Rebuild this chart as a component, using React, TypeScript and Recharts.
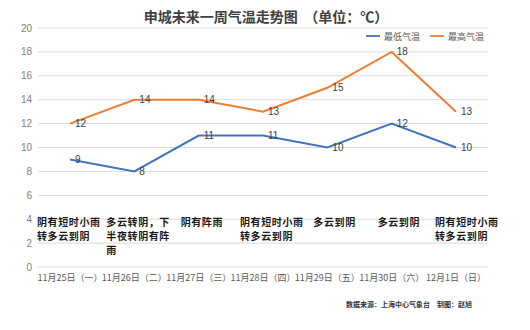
import React from 'react';
import {
  CartesianGrid,
  LabelList,
  Legend,
  Line,
  LineChart,
  ReferenceDot,
  XAxis,
  YAxis,
} from 'recharts';

// 日期（横轴）
const days = [
  '11月25日（一）',
  '11月26日（二）',
  '11月27日（三）',
  '11月28日（四）',
  '11月29日（五）',
  '11月30日（六）',
  '12月1日（日）',
];

// 最低 / 最高气温
const lowTemps = [9, 8, 11, 11, 10, 12, 10];
const highTemps = [12, 14, 14, 13, 15, 18, 13];

// 天气描述
const weather = [
  '阴有短时小雨转多云到阴',
  '多云转阴，下半夜转阴有阵雨',
  '阴有阵雨',
  '阴有短时小雨转多云到阴',
  '多云到阴',
  '多云到阴',
  '阴有短时小雨转多云到阴',
];

const yTicks = [0, 2, 4, 6, 8, 10, 12, 14, 16, 18, 20];

// 天气文字所在的高度（对应纵轴数值）
const WEATHER_LEVEL = 4;

const data = days.map((day, i) => ({
  day,
  low: lowTemps[i],
  high: highTemps[i],
}));

const CJK = '"Noto Sans CJK SC", "Noto Sans", sans-serif';
const NUM = 'Arial, "Liberation Sans", sans-serif';

// 每段天气文字相对于类目中心的水平偏移（仅用于排版）
const weatherShift = [-33, -28, -18, -23, -14, -14, -21];

const splitLines = (text: string, size: number) => {
  const out: string[] = [];
  for (let i = 0; i < text.length; i += size) out.push(text.slice(i, i + size));
  return out;
};

const App: React.FC = () => {
  return (
    <div style={{ position: 'fixed', left: 0, top: 0, width: 530, height: 330, background: '#fff' }}>
      <div
        style={{
          position: 'absolute',
          top: 6,
          left: 0,
          width: 532,
          textAlign: 'center',
          fontFamily: CJK,
          fontWeight: 'bold',
          fontSize: 14,
          color: '#404040',
          lineHeight: '20px',
          whiteSpace: 'pre',
        }}
      >
        申城未来一周气温走势图  （单位：℃）
      </div>
      <LineChart
        width={530}
        height={330}
        data={data}
        margin={{ top: 12, right: 42, bottom: 43, left: 8 }}
      >
        <CartesianGrid stroke="#d9d9d9" horizontal vertical={false} />
        <XAxis
          dataKey="day"
          axisLine={false}
          tickLine={false}
          interval={0}
          height={20}
          padding={{ left: 32, right: 32 }}
          tick={{ fontSize: 9, fill: '#595959', fontFamily: CJK }}
        />
        <YAxis
          domain={[0, 20]}
          ticks={yTicks}
          width={30}
          axisLine={false}
          tickLine={false}
          tickMargin={0}
          tick={{ fontSize: 10, fill: '#7f7f7f', fontFamily: NUM }}
        />
        <Legend
          verticalAlign="top"
          align="right"
          iconType="plainline"
          iconSize={14}
          wrapperStyle={{ top: 27, right: 36, left: 'auto', width: 'auto', fontFamily: CJK, lineHeight: '12px' }}
          formatter={(value) => (
            <span style={{ color: '#595959', fontSize: 9 }}>{value}</span>
          )}
        />
        <Line
          type="linear"
          dataKey="low"
          name="最低气温"
          stroke="#4472C4"
          strokeWidth={2}
          dot={false}
          isAnimationActive={false}
        >
          <LabelList
            dataKey="low"
            position="right"
            offset={5}
            style={{ fontSize: 10, fill: '#404040', fontFamily: NUM }}
          />
        </Line>
        <Line
          type="linear"
          dataKey="high"
          name="最高气温"
          stroke="#ED7D31"
          strokeWidth={2}
          dot={false}
          isAnimationActive={false}
        >
          <LabelList
            dataKey="high"
            position="right"
            offset={5}
            style={{ fontSize: 10, fill: '#404040', fontFamily: NUM }}
          />
        </Line>
        {days.map((day, i) => (
          <ReferenceDot
            key={day}
            x={day}
            y={WEATHER_LEVEL}
            r={1}
            fill="none"
            stroke="none"
            label={(props: any) => {
              const vb = props.viewBox || {};
              const x0 = (vb.x ?? 0) + (vb.width ?? 0) / 2 + weatherShift[i];
              const y0 = (vb.y ?? 0) + (vb.height ?? 0) / 2;
              return (
                <text
                  x={x0}
                  y={y0}
                  fontSize={10}
                  fontWeight="bold"
                  fill="#1a1a1a"
                  letterSpacing={0.6}
                  style={{ fontFamily: CJK }}
                >
                  {splitLines(weather[i], 6).map((line, k) => (
                    <tspan key={k} x={x0} dy={k === 0 ? 7 : 14}>
                      {line}
                    </tspan>
                  ))}
                </text>
              );
            }}
          />
        ))}
      </LineChart>
      <div
        style={{
          position: 'absolute',
          left: 346,
          top: 299,
          fontFamily: CJK,
          fontSize: 7,
          fontWeight: 'bold',
          color: '#333',
          whiteSpace: 'nowrap',
        }}
      >
        数据来源：上海中心气象台　制图：赵旭
      </div>
    </div>
  );
};

export default App;
